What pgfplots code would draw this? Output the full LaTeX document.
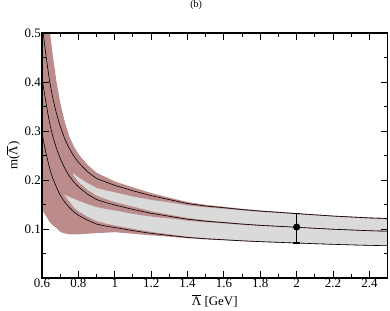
\documentclass[border=0pt]{standalone}
\usepackage{fontspec}
\setmainfont{Liberation Serif}
\usepackage{pgfplots}
\pgfplotsset{compat=1.18}
\usepackage{pgfplotstable}
\usepgfplotslibrary{fillbetween}
\definecolor{bandcol}{RGB}{188,140,140}
\definecolor{greyfill}{RGB}{218,218,218}
\pgfplotstableread{
x M U L Mu Md Uu Ud Lu Ld
0.60 0.408 0.518 0.295 0.530 0.204 0.673 0.259 0.380 0.141
0.61 0.385 0.489 0.276 0.493 0.200 0.630 0.254 0.350 0.133
0.62 0.362 0.460 0.258 0.456 0.195 0.590 0.248 0.323 0.1275
0.63 0.340 0.432 0.242 0.422 0.190 0.550 0.242 0.298 0.122
0.64 0.320 0.406 0.227 0.390 0.186 0.515 0.235 0.276 0.115
0.65 0.303 0.385 0.214 0.364 0.182 0.482 0.231 0.256 0.111
0.66 0.288 0.366 0.203 0.343 0.179 0.452 0.227 0.241 0.1075
0.68 0.264 0.335 0.185 0.308 0.174 0.400 0.221 0.215 0.102
0.70 0.244 0.310 0.169 0.278 0.171 0.358 0.217 0.191 0.094
0.725 0.224 0.284 0.155 0.250 0.170 0.319 0.214 0.168 0.091
0.75 0.208 0.264 0.144 0.226 0.166 0.289 0.212 0.156 0.089
0.775 0.196 0.249 0.135 0.208 0.162 0.269 0.213 0.144 0.089
0.80 0.186 0.236 0.128 0.196 0.158 0.253 0.206 0.136 0.089
0.85 0.171 0.217 0.118 0.180 0.151 0.231 0.194 0.125 0.0905
0.90 0.160 0.203 0.110 0.168 0.145 0.215 0.184 0.116 0.0915
0.95 0.154 0.196 0.106 0.161 0.141 0.206 0.179 0.111 0.0925
1.00 0.149 0.189 0.103 0.155 0.138 0.197 0.175 0.107 0.0935
1.10 0.140 0.178 0.0966 0.1456 0.1309 0.185 0.1664 0.1005 0.0903
1.20 0.132 0.168 0.0911 0.1362 0.1254 0.1734 0.1596 0.0940 0.0870
1.30 0.126 0.160 0.0869 0.1292 0.1216 0.1640 0.1544 0.0891 0.0843
1.40 0.120 0.152 0.0828 0.1224 0.1170 0.1550 0.1482 0.0845 0.0811
1.50 0.116 0.147 0.0800 0.1179 0.1139 0.1494 0.1444 0.0813 0.0788
1.60 0.113 0.1435 0.0780 0.1145 0.1114 0.1454 0.1415 0.0790 0.0771
1.70 0.110 0.1397 0.0759 0.1112 0.1087 0.1412 0.1380 0.0767 0.0750
1.80 0.1075 0.1365 0.0742 0.1086 0.1064 0.1379 0.1351 0.0749 0.0735
1.90 0.1055 0.1340 0.0728 0.1064 0.1046 0.1352 0.1328 0.0735 0.0721
2.00 0.1035 0.1314 0.0714 0.1043 0.1027 0.1325 0.1303 0.0720 0.0708
2.10 0.1015 0.1289 0.0700 0.1023 0.1007 0.1299 0.1279 0.0706 0.0694
2.20 0.0995 0.1264 0.0687 0.1003 0.0987 0.1274 0.1254 0.0692 0.0682
2.30 0.0980 0.1245 0.0676 0.0988 0.0972 0.1255 0.1235 0.0681 0.0671
2.40 0.0965 0.1226 0.0666 0.0974 0.0956 0.1237 0.1215 0.0672 0.0660
2.50 0.0955 0.1213 0.0659 0.0965 0.0945 0.1225 0.1201 0.0666 0.0652
}\data
\begin{document}
\begin{tikzpicture}
\begin{axis}[
 scale only axis, width=345.6bp, height=245bp,
 xmin=0.6, xmax=2.5, ymin=0, ymax=0.5,
 xtick={0.6,0.8,1,1.2,1.4,1.6,1.8,2,2.2,2.4},
 xticklabels={0.6,0.8,1,1.2,1.4,1.6,1.8,2,2.2,2.4},
 ytick={0,0.1,0.2,0.3,0.4,0.5},
 yticklabels={,0.1,0.2,0.3,0.4,0.5},
 minor x tick num=1, minor y tick num=1,
 major tick length=7bp, minor tick length=4bp,
 tick style={line width=0.9pt, black},
 axis line style={line width=1.3pt},
 axis on top,
 tick label style={font=\fontsize{13}{13}\selectfont},
 xticklabel style={inner ysep=1bp},
 yticklabel style={inner xsep=1bp},
 xlabel={$\overline{\mbox{Λ}}$ [GeV]},
 ylabel={m($\overline{\mbox{Λ}}$)},
 xlabel style={yshift=-2bp},
 label style={font=\fontsize{13}{13}\selectfont},
 title={(b)},
 title style={font=\fontsize{10}{10}\selectfont, at={(0.446,1)}, anchor=center, yshift=22bp},
]
\addplot[draw=none, name path=U, forget plot] table[x=x,y=U]{\data};
\addplot[draw=none, name path=L, forget plot] table[x=x,y=L]{\data};
\addplot[draw=none, name path=Uu, forget plot] table[x=x,y=Uu]{\data};
\addplot[draw=none, name path=Ud, forget plot] table[x=x,y=Ud]{\data};
\addplot[draw=none, name path=Mu, forget plot] table[x=x,y=Mu]{\data};
\addplot[draw=none, name path=Md, forget plot] table[x=x,y=Md]{\data};
\addplot[draw=none, name path=Lu, forget plot] table[x=x,y=Lu]{\data};
\addplot[draw=none, name path=Ld, forget plot] table[x=x,y=Ld]{\data};
\addplot[fill=greyfill, draw=none] fill between[of=U and L];
\addplot[fill=bandcol, draw=none] fill between[of=Uu and Ud];
\addplot[fill=bandcol, draw=none] fill between[of=Mu and Md];
\addplot[fill=bandcol, draw=none] fill between[of=Lu and Ld];
\addplot[black, line width=0.6bp] table[x=x,y=U]{\data};
\addplot[black, line width=0.6bp] table[x=x,y=M]{\data};
\addplot[black, line width=0.6bp] table[x=x,y=L]{\data};
\addplot[black, only marks, mark=*, mark size=3.3bp,
  error bars/.cd, y dir=both, y explicit,
  error bar style={line width=1.2pt, black},
  error mark options={rotate=90, mark size=3.5bp, line width=1.2pt, black}]
  coordinates {(2,0.104) += (0,0.0276) -= (0,0.0326)};
\coordinate (sw) at (rel axis cs:0,0);
\coordinate (ne) at (rel axis cs:1,1);
\end{axis}
\pgfresetboundingbox
\path[use as bounding box] ([shift={(-42bp,-33bp)}]sw) rectangle ([shift={(2.4bp,33bp)}]ne);
\end{tikzpicture}
\end{document}
